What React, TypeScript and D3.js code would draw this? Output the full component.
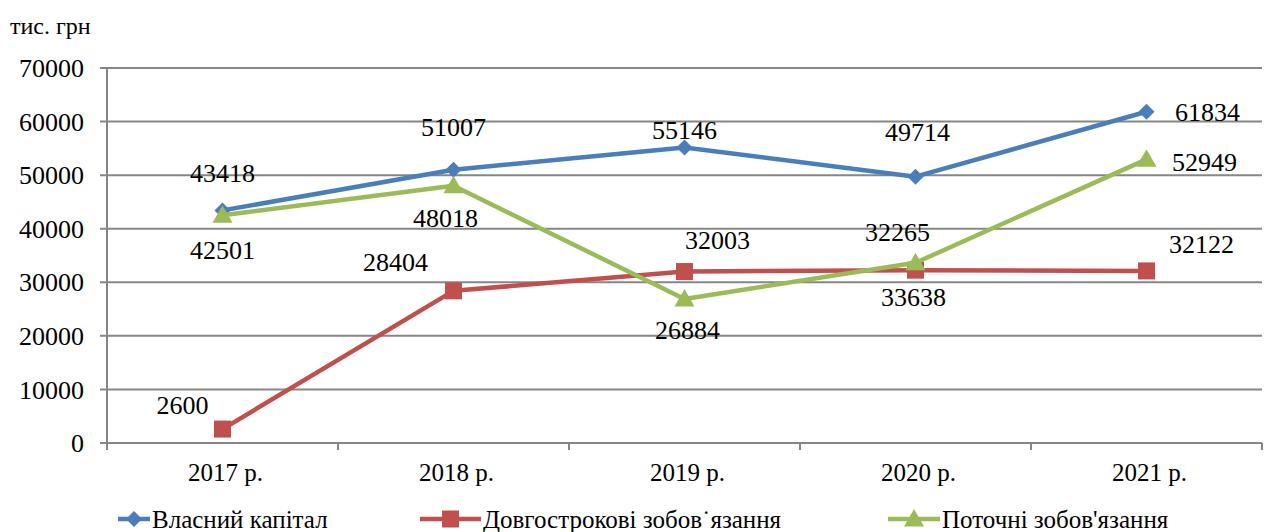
import React from "react";
import * as d3 from "d3";

const years = ["2017 р.", "2018 р.", "2019 р.", "2020 р.", "2021 р."];
const equity = [43418, 51007, 55146, 49714, 61834];
const longTerm = [2600, 28404, 32003, 32265, 32122];
const current = [42501, 48018, 26884, 33638, 52949];
const yTicks = [0, 10000, 20000, 30000, 40000, 50000, 60000, 70000];
const seriesNames = ["Власний капітал", "Довгострокові зобов˙язання", "Поточні зобов'язання"];

// label offsets from each point (label centre)
const equityOffsets: [number, number][] = [[0, -38], [0, -43], [0, -18], [2, -45], [61, 0]];
const longTermOffsets: [number, number][] = [[-40, -24], [-58, -29], [33, -32], [-18, -38], [55, -27]];
const currentOffsets: [number, number][] = [[0, 35], [-8, 32], [3, 31], [-2, 34], [58, 3]];

const W = 1273;
const H = 532;

const x = d3.scaleBand<string>().domain(years).range([107, 1262]);
const y = d3.scaleLinear().domain([0, 70000]).range([443, 68]);
const cx = (c: string) => (x(c) as number) + x.bandwidth() / 2;

type Marker = "diamond" | "square" | "triangle";

function MarkerShape({ kind, px, py, color }: { kind: Marker; px: number; py: number; color: string }) {
  if (kind === "diamond") {
    const r = 8;
    return <path d={`M${px},${py - r}L${px + r},${py}L${px},${py + r}L${px - r},${py}Z`} fill={color} />;
  }
  if (kind === "square") {
    const s = 17;
    return <rect x={px - s / 2} y={py - s / 2} width={s} height={s} fill={color} />;
  }
  const r = 10;
  return <path d={`M${px},${py - r}L${px + r},${py + r * 0.75}L${px - r},${py + r * 0.75}Z`} fill={color} />;
}

const series = [
  { name: seriesNames[0], values: equity, color: "#4a7ebb", marker: "diamond" as Marker, offsets: equityOffsets },
  { name: seriesNames[1], values: longTerm, color: "#c0504d", marker: "square" as Marker, offsets: longTermOffsets },
  { name: seriesNames[2], values: current, color: "#9bbb59", marker: "triangle" as Marker, offsets: currentOffsets },
];

const legendPos = [
  { x1: 118, x2: 150, tx: 152 },
  { x1: 420, x2: 481, tx: 483 },
  { x1: 888, x2: 940, tx: 942 },
];

const serif = { fontFamily: "Liberation Serif" };

export default function App() {
  const line = d3
    .line<number>()
    .x((_, i) => cx(years[i]))
    .y((v) => y(v));

  return (
    <svg width={W} height={H} style={{ position: "absolute", left: 0, top: 0, background: "#fff" }}>
      <text x={10} y={34} fontSize={24} style={serif}>тис. грн</text>

      {yTicks.map((t) => (
        <g key={t}>
          <line x1={100} x2={1262} y1={y(t)} y2={y(t)} stroke="#868686" strokeWidth={2} />
          <text x={84} y={y(t)} dy="0.35em" textAnchor="end" fontSize={26} style={serif}>
            {t}
          </text>
        </g>
      ))}
      <line x1={107} x2={107} y1={y(70000)} y2={450} stroke="#868686" strokeWidth={2} />
      {years.map((c, i) => (
        <line key={"t" + i} x1={(x(c) as number) + x.bandwidth()} x2={(x(c) as number) + x.bandwidth()} y1={443} y2={450} stroke="#868686" strokeWidth={2} />
      ))}
      {years.map((c) => (
        <text key={c} x={cx(c) + 3} y={481} textAnchor="middle" fontSize={25} style={serif}>
          {c}
        </text>
      ))}

      {series.map((s) => (
        <g key={s.name}>
          <path d={line(s.values) || ""} fill="none" stroke={s.color} strokeWidth={4.5} strokeLinejoin="round" />
          {s.values.map((v, i) => (
            <MarkerShape key={i} kind={s.marker} px={cx(years[i])} py={y(v)} color={s.color} />
          ))}
        </g>
      ))}

      {series.map((s) =>
        s.values.map((v, i) => (
          <text
            key={s.name + i}
            x={cx(years[i]) + s.offsets[i][0]}
            y={y(v) + s.offsets[i][1]}
            dy="0.35em"
            textAnchor="middle"
            fontSize={26}
            style={serif}
          >
            {v}
          </text>
        ))
      )}

      {series.map((s, i) => {
        const lp = legendPos[i];
        return (
          <g key={"lg" + i}>
            <line x1={lp.x1} x2={lp.x2} y1={519} y2={519} stroke={s.color} strokeWidth={4.5} />
            <MarkerShape kind={s.marker} px={(lp.x1 + lp.x2) / 2} py={519} color={s.color} />
            <text x={lp.tx} y={528} fontSize={25} style={serif}>
              {s.name}
            </text>
          </g>
        );
      })}
    </svg>
  );
}
